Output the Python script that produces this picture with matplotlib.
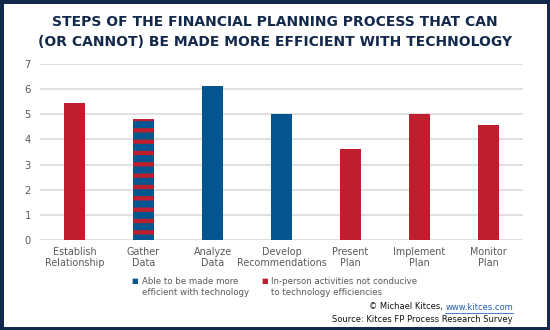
import matplotlib
matplotlib.use("Agg")
import matplotlib.pyplot as plt
from matplotlib.patches import Rectangle

# data
steps = ["Establish\nRelationship", "Gather\nData", "Analyze\nData", "Develop\nRecommendations",
         "Present\nPlan", "Implement\nPlan", "Monitor\nPlan"]
values = [5.46, 4.80, 6.13, 5.00, 3.62, 5.00, 4.59]
groups = ["red", "mixed", "blue", "blue", "red", "red", "red"]
yticks = [0, 1, 2, 3, 4, 5, 6, 7]

BLUE = "#055591"
RED = "#be1e2d"
NAVY = "#13294b"
GRAY = "#595959"

DPI = 68
W, H = 550, 330
pt = 72 / DPI  # px -> pt

plt.rcParams['font.family'] = ['DejaVu Sans']
plt.rcParams['hatch.linewidth'] = 4.6

fig = plt.figure(figsize=(W / DPI, H / DPI), dpi=DPI)
fig.patch.set_facecolor("white")

# frame
fig.add_artist(Rectangle((0, 0), 1, 1, transform=fig.transFigure, fill=False,
                         edgecolor=NAVY, linewidth=7 * pt))

ax = fig.add_axes([40 / W, (H - 240) / H, (523 - 40) / W, (240 - 64) / H])
x = range(len(steps))
for i, (v, g) in enumerate(zip(values, groups)):
    if g == "red":
        ax.bar(i, v, width=0.29, color=RED, zorder=3)
    elif g == "blue":
        ax.bar(i, v, width=0.29, color=BLUE, zorder=3)
    else:
        ax.bar(i, v, width=0.29, facecolor=BLUE, edgecolor=RED, linewidth=0,
               hatch="-", zorder=3)

ax.set_ylim(0, 7)
ax.set_xlim(-0.5, len(steps) - 0.5)
ax.set_yticks(yticks)
ax.set_xticks(list(x))
ax.set_xticklabels(steps, linespacing=1.15)
ax.tick_params(axis="both", length=0, labelcolor=GRAY)
ax.tick_params(axis="y", pad=9 * pt, labelsize=10 * pt)
ax.tick_params(axis="x", pad=7 * pt, labelsize=9.6 * pt)
ax.grid(axis="y", color="#d9d9d9", linewidth=1.6 * pt, zorder=0)
for s in ax.spines.values():
    s.set_visible(False)

# title
fig.text(0.5, 1 - 22 / H, "STEPS OF THE FINANCIAL PLANNING PROCESS THAT CAN",
         ha="center", va="center", color=NAVY, fontsize=13.9 * pt, fontweight="bold")
fig.text(0.5, 1 - 42 / H, "(OR CANNOT) BE MADE MORE EFFICIENT WITH TECHNOLOGY",
         ha="center", va="center", color=NAVY, fontsize=13.9 * pt, fontweight="bold")

# legend
fig.text(135 / W, 1 - 281 / H, "■", color=BLUE, fontsize=7 * pt, ha="center", va="center")
fig.text(142 / W, 1 - 287 / H, "Able to be made more\nefficient with technology",
         color=GRAY, fontsize=8.6 * pt, ha="left", va="center", linespacing=1.3)
fig.text(265 / W, 1 - 281 / H, "■", color=RED, fontsize=7 * pt, ha="center", va="center")
fig.text(271 / W, 1 - 287 / H, "In-person activities not conducive\nto technology efficiencies",
         color=GRAY, fontsize=8.6 * pt, ha="left", va="center", linespacing=1.3)

# footer
FS = 8.4 * pt
t2 = fig.text(513 / W, 1 - 307 / H, "www.kitces.com", color="#1f5fb4",
              fontsize=FS, ha="right", va="center")
fig.canvas.draw()
bb = t2.get_window_extent()
fig.text(bb.x0 / W, 1 - 307 / H, "© Michael Kitces, ", color="#111111",
         fontsize=FS, ha="right", va="center")
fig.add_artist(plt.Line2D([bb.x0 / W, bb.x1 / W], [1 - 312.5 / H, 1 - 312.5 / H],
                          transform=fig.transFigure, color="#1f5fb4", linewidth=0.8 * pt))
fig.text(513 / W, 1 - 319 / H, "Source: Kitces FP Process Research Survey", color="#111111",
         fontsize=FS, ha="right", va="center")

fig.savefig("out.png", dpi=DPI)
